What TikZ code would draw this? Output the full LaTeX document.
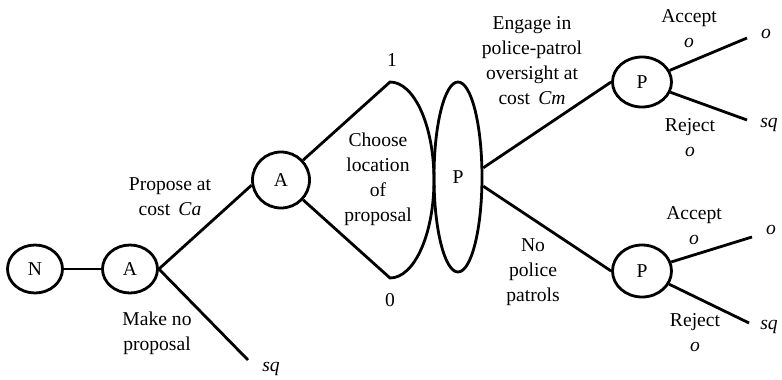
\documentclass[tikz,border=0pt]{standalone}
\usepackage{fontspec}
\setmainfont{Liberation Serif}
\usetikzlibrary{shapes.geometric}

\begin{document}
\begin{tikzpicture}[x=.5pt,y=-.5pt,line width=1.4pt,font=\fontsize{9.8}{12.5}\selectfont,
dec/.style={draw,ellipse,inner sep=0pt,minimum width=27.5pt,minimum height=24pt},
lbl/.style={align=center,inner sep=0pt},
pay/.style={inner sep=0pt,font=\fontsize{9.8}{12.5}\selectfont\itshape}]
\useasboundingbox(0,0)rectangle(782,380);

\node[dec](n)at(35,269){N};
\node[dec](a1)at(130,269){A};
\node[dec,minimum width=28.5pt,minimum height=28pt](a2)at(281,180){A};
\node[dec,minimum width=24pt,minimum height=95pt](pe)at(458,177){P};
\node[dec,minimum width=29.5pt,minimum height=25pt](pu)at(642,82){P};
\node[dec,minimum width=29.5pt,minimum height=26pt](pl)at(642,271){P};

% lens: choice of location
\coordinate(l1)at(390,82);
\draw(a2)--(l1)arc[start angle=90,end angle=-90,x radius=22pt,y radius=49pt]--(a2);
\node[lbl](loc)at(378,179){Choose\\location\\of\\proposal};
\node[lbl](one)at(392,60){1};
\node[lbl](zero)at(390,300){0};

\draw(n)--(a1);
\draw(a1.east)--(a2.190);
\coordinate(e0)at(248,360);\draw(a1.east)--(e0);
\node[pay](sq0)at(271,369){sq};
\node[lbl](prop)at(170,197){Propose at\\cost~\,\textit{Ca}};
\node[lbl](nop)at(157,333){Make no\\proposal};

\draw(pe.20)--(pu.west);\draw(pe.-20)--(pl.west);
\node[lbl](eng)at(532,61){Engage in\\police-patrol\\oversight at\\cost~\,\textit{Cm}};
\node[lbl](nopol)at(533,272){No\\police\\patrols};

% responses
\coordinate(e1)at(747,38);\coordinate(e2)at(747,120);
\coordinate(e3)at(752,237);\coordinate(e4)at(749,323);
\draw(pu)--(e1);\draw(pu)--(e2);\draw(pl)--(e3);\draw(pl)--(e4);
\node[pay](o1)at(766,34){o};\node[pay](sq1)at(769,125){sq};
\node[pay](o2)at(771,230){o};\node[pay](sq2)at(769,327){sq};
\node[lbl](acc1)at(689,29){Accept\\\textit{o}};
\node[lbl](rej1)at(690,138){Reject\\\textit{o}};
\node[lbl](acc2)at(694,226){Accept\\\textit{o}};
\node[lbl](rej2)at(695,333){Reject\\\textit{o}};
\end{tikzpicture}
\end{document}
